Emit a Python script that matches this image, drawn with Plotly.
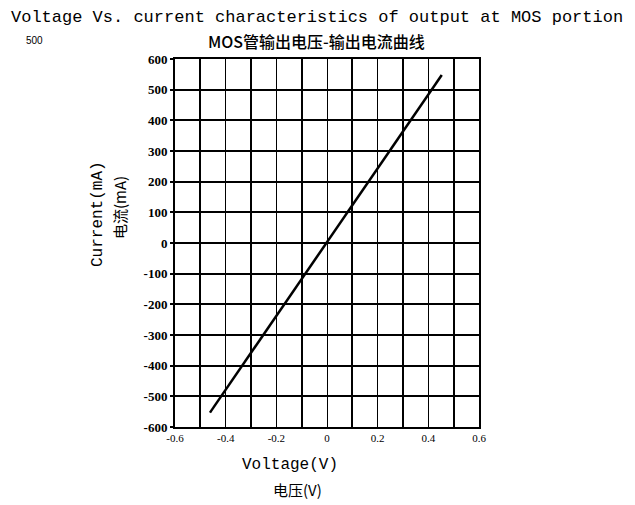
import plotly.graph_objects as go

# Data (a straight line from about (-0.46,-553) to (0.45,548))
voltage_v = [-0.462, -0.25, 0.0, 0.25, 0.453]
current_ma = [-553, -298, 3, 304, 548]

x_tick_vals = [-0.6, -0.4, -0.2, 0, 0.2, 0.4, 0.6]
x_tick_text = ["-0.6", "-0.4", "-0.2", "0", "0.2", "0.4", "0.6"]
x_thick_grid = [-0.5, -0.3, -0.1, 0.1, 0.3, 0.5]
y_tick_vals = [600, 500, 400, 300, 200, 100, 0, -100, -200, -300, -400, -500, -600]

top_text = "Voltage Vs. current characteristics of output at MOS portion"
corner_text = "500"
title_text = "MOS管输出电压-输出电流曲线"
y_title_en = "Current(mA)"
y_title_cn = "电流(mA)"
x_title_en = "Voltage(V)"
x_title_cn = "电压(V)"

# the page body adds an 8px margin; compensate so the picture lands like the reference
OFF = 8
W, H = 635 - OFF, 505 - OFF
L, T = 175 - OFF, 59 - OFF
R = W - (479 - OFF)
B = H - (427 - OFF)

fig = go.Figure()
fig.add_trace(go.Scatter(x=voltage_v, y=current_ma, mode="lines",
                         line=dict(color="black", width=2.5), showlegend=False,
                         hoverinfo="skip"))
# invisible trace to activate the overlay axis for thicker grid lines
fig.add_trace(go.Scatter(x=[voltage_v[0]], y=[current_ma[0]], xaxis="x2", mode="markers",
                         marker=dict(opacity=0), showlegend=False, hoverinfo="skip"))

fig.update_layout(
    width=W, height=H,
    margin=dict(l=L, r=R, t=T, b=B, autoexpand=False),
    paper_bgcolor="white", plot_bgcolor="white",
    xaxis=dict(range=[-0.6, 0.6], tickvals=x_tick_vals, ticktext=x_tick_text,
               showgrid=True, gridcolor="black", gridwidth=1.1,
               zeroline=False, showline=True, linecolor="black", linewidth=2, mirror=True,
               ticks="", tickfont=dict(family="Liberation Serif", size=11, color="black"),
               fixedrange=True),
    xaxis2=dict(range=[-0.6, 0.6], overlaying="x", tickvals=x_thick_grid,
                showticklabels=False, showgrid=True, gridcolor="black", gridwidth=2.4,
                zeroline=False, ticks="", showline=False, fixedrange=True),
    yaxis=dict(range=[-600, 600], tickvals=y_tick_vals,
               ticktext=[str(v) for v in y_tick_vals],
               showgrid=True, gridcolor="black", gridwidth=2,
               zeroline=False, showline=True, linecolor="black", linewidth=2, mirror=True,
               ticks="outside", ticklen=3, tickwidth=1.5, tickcolor="black",
               tickfont=dict(family="Liberation Serif", size=13, color="black", weight="bold"),
               fixedrange=True),
)

def px(xp):
    return (xp - OFF - L) / (W - L - R)

def py(yp):
    return (H - B - (yp - OFF)) / (H - T - B)

specs = [
    (top_text, 9, 18, "left", 0, dict(family="Liberation Mono", size=17)),
    (corner_text, 24, 41, "left", 0, dict(family="Liberation Sans", size=10)),
    (title_text, 316, 41, "center", 0, dict(family="Noto Sans CJK SC", size=16, weight=500)),
    (y_title_en, 98, 214, "center", -90, dict(family="Liberation Mono", size=16)),
    (y_title_cn, 119, 208, "center", -90, dict(family="Noto Sans CJK SC", size=15)),
    (x_title_en, 290, 465, "center", 0, dict(family="Liberation Mono", size=16)),
    (x_title_cn, 297, 489, "center", 0, dict(family="Noto Sans CJK SC", size=15)),
]
for text, xp, yp, xa, ang, f in specs:
    f = dict(f, color="black")
    fig.add_annotation(text=text, x=px(xp), y=py(yp), xref="paper", yref="paper",
                       showarrow=False, xanchor=xa, yanchor="middle", textangle=ang,
                       font=f)

fig.write_html("out.html")
